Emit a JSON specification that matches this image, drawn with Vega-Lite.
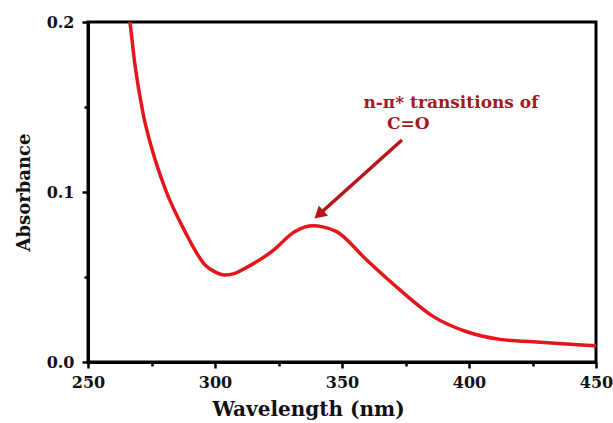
{
  "$schema": "https://vega.github.io/schema/vega-lite/v6.json",
  "width": 508,
  "height": 340,
  "autosize": {"type": "none"},
  "padding": {"left": 88, "top": 22, "right": 17, "bottom": 61},
  "background": "white",
  "config": {
    "view": {"stroke": "black", "strokeWidth": 3},
    "axis": {
      "labelFont": "DejaVu Serif",
      "titleFont": "DejaVu Serif",
      "labelFontWeight": "bold",
      "titleFontWeight": "bold",
      "labelColor": "#111",
      "titleColor": "#111",
      "domainColor": "black",
      "domainWidth": 3,
      "tickColor": "black",
      "tickWidth": 2.5,
      "grid": false
    }
  },
  "datasets": {
    "spectrum": [
      {"wavelength": 265.0, "absorbance": 0.215},
      {"wavelength": 266.5, "absorbance": 0.2},
      {"wavelength": 268.5, "absorbance": 0.1747},
      {"wavelength": 271.8, "absorbance": 0.1453},
      {"wavelength": 275.1, "absorbance": 0.1257},
      {"wavelength": 280.3, "absorbance": 0.1022},
      {"wavelength": 288.2, "absorbance": 0.0767},
      {"wavelength": 296.1, "absorbance": 0.0571},
      {"wavelength": 300.0, "absorbance": 0.053},
      {"wavelength": 303.9, "absorbance": 0.0512},
      {"wavelength": 307.5, "absorbance": 0.052},
      {"wavelength": 311.8, "absorbance": 0.0551},
      {"wavelength": 322.3, "absorbance": 0.0649},
      {"wavelength": 331.5, "absorbance": 0.0767},
      {"wavelength": 335.5, "absorbance": 0.0795},
      {"wavelength": 338.7, "absorbance": 0.0802},
      {"wavelength": 342.5, "absorbance": 0.0795},
      {"wavelength": 347.9, "absorbance": 0.0767},
      {"wavelength": 359.7, "absorbance": 0.060},
      {"wavelength": 372.8, "absorbance": 0.0424},
      {"wavelength": 386.0, "absorbance": 0.0267},
      {"wavelength": 399.1, "absorbance": 0.0178},
      {"wavelength": 412.2, "absorbance": 0.0133},
      {"wavelength": 425.3, "absorbance": 0.0119},
      {"wavelength": 438.5, "absorbance": 0.0106},
      {"wavelength": 450.0, "absorbance": 0.0095}
    ],
    "arrow": [
      {"wavelength": 373.6, "absorbance": 0.1306, "part": "tail"},
      {"wavelength": 341.5, "absorbance": 0.0875, "part": "head"}
    ],
    "labels": [
      {"wavelength": 392.9, "absorbance": 0.1525, "text": "n-π* transitions of"},
      {"wavelength": 376.1, "absorbance": 0.140, "text": "C=O"}
    ]
  },
  "layer": [
    {
      "data": {"name": "spectrum"},
      "mark": {"type": "line", "color": "#e5161b", "strokeWidth": 3.5, "interpolate": "monotone", "clip": true},
      "encoding": {
        "x": {
          "field": "wavelength", "type": "quantitative",
          "scale": {"domain": [250, 450], "nice": false, "zero": false},
          "axis": {
            "values": [250, 275, 300, 325, 350, 375, 400, 425, 450],
            "labelExpr": "datum.value % 50 === 0 ? datum.label : ''",
            "title": "Wavelength (nm)",
            "labelFontSize": 16,
            "titleFontSize": 20,
            "titleX": 220,
            "titleAlign": "center",
            "tickSize": {"condition": {"test": "datum.value % 50 !== 0", "value": 4}, "value": 6},
            "labelPadding": 6,
            "titlePadding": 9,
            "labelFlush": false
          }
        },
        "y": {
          "field": "absorbance", "type": "quantitative",
          "scale": {"domain": [0, 0.2], "nice": false},
          "axis": {
            "values": [0, 0.05, 0.1, 0.15, 0.2],
            "labelExpr": "(datum.value === 0.05 || datum.value === 0.15) ? '' : format(datum.value, '.1f')",
            "title": "Absorbance",
            "labelFontSize": 16,
            "titleFontSize": 18,
            "tickSize": {"condition": {"test": "datum.value === 0.05 || datum.value === 0.15", "value": 4}, "value": 6},
            "labelPadding": 8,
            "titlePadding": 13,
            "labelFlush": false
          }
        }
      }
    },
    {
      "data": {"name": "arrow"},
      "mark": {"type": "line", "color": "#b5161c", "strokeWidth": 3.5},
      "encoding": {
        "x": {"field": "wavelength", "type": "quantitative"},
        "y": {"field": "absorbance", "type": "quantitative"}
      }
    },
    {
      "data": {"name": "arrow"},
      "transform": [{"filter": "datum.part === 'head'"}],
      "mark": {"type": "point", "shape": "triangle", "filled": true, "color": "#b5161c", "size": 190, "angle": 228, "opacity": 1},
      "encoding": {
        "x": {"field": "wavelength", "type": "quantitative"},
        "y": {"field": "absorbance", "type": "quantitative"}
      }
    },
    {
      "data": {"name": "labels"},
      "mark": {"type": "text", "font": "DejaVu Serif", "fontWeight": "bold", "fontSize": 17, "color": "#a8171f", "align": "center", "baseline": "middle"},
      "encoding": {
        "x": {"field": "wavelength", "type": "quantitative"},
        "y": {"field": "absorbance", "type": "quantitative"},
        "text": {"field": "text"}
      }
    }
  ]
}
